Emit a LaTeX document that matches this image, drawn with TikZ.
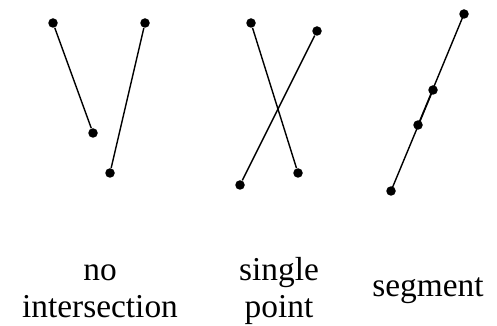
\documentclass[tikz,border=0pt]{standalone}
\usepackage{fontspec}
\setmainfont{Liberation Serif}
\usepackage{xcolor}
\usepackage{tikz}

\tikzset{
  dot/.style={circle, fill=black, inner sep=0pt, minimum size=0.19cm},
  seg/.style={line width=0.8pt, black},
  lbl/.style={font=\fontsize{19}{21}\selectfont, align=center, inner sep=0pt}
}

\begin{document}
\begin{tikzpicture}
    \useasboundingbox (0,0) rectangle (9.94,6.5);
    \node[dot] (a1) at (1.06,6.04) {};
    \node[dot] (a2) at (1.86,3.84) {};
    \node[dot] (b1) at (2.90,6.04) {};
    \node[dot] (b2) at (2.20,3.04) {};
    \draw[seg] (a1) -- (a2);
    \draw[seg] (b1) -- (b2);
    \node[dot] (c1) at (5.02,6.04) {};
    \node[dot] (c2) at (5.96,3.04) {};
    \node[dot] (d1) at (6.34,5.88) {};
    \node[dot] (d2) at (4.80,2.80) {};
    \draw[seg] (c1) -- (c2);
    \draw[seg] (d1) -- (d2);
    \node[dot] (e1) at (9.28,6.22) {};
    \node[dot] (e2) at (7.82,2.68) {};
    \node[dot] (f1) at (8.66,4.70) {};
    \node[dot] (f2) at (8.36,4.00) {};
    \draw[seg] (e2.center) -- (f1.center);
    \draw[seg] (f2.center) -- (e1.center);
    \node[lbl] (none) at (2.00,0.68) {no\\intersection};
    \node[lbl] (single) at (5.58,0.68) {single\\point};
    \node[lbl, anchor=base] (overlap) at (8.56,0.58) {segment};
\end{tikzpicture}
\end{document}
